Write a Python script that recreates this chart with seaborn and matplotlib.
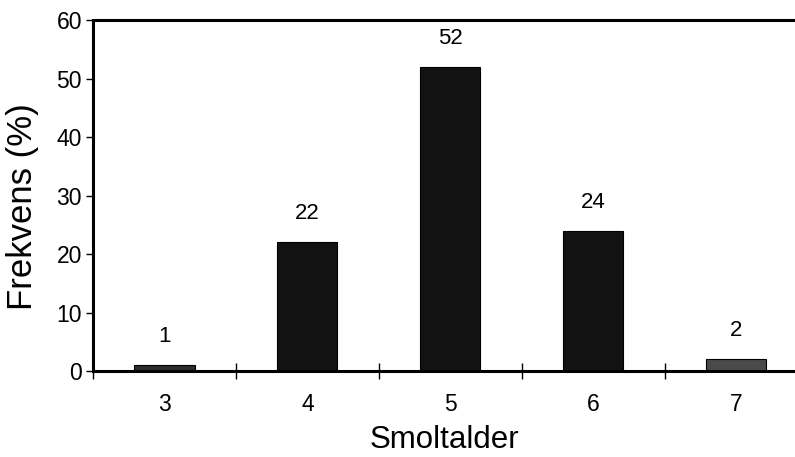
import matplotlib
matplotlib.use("Agg")
import matplotlib.pyplot as plt
import seaborn as sns
import pandas as pd
import numpy as np

# Smolt age distribution
smolt_age = ["3", "4", "5", "6", "7"]
frequency = [1, 22, 52, 24, 2]
bar_colors = ["#2e2e2e", "#121212", "#121212", "#121212", "#4a4a4a"]
y_ticks = [0, 10, 20, 30, 40, 50, 60]

sns.set_theme(style="white")
plt.rcParams["font.family"] = ["Liberation Sans", "DejaVu Sans"]

df = pd.DataFrame({"Smoltalder": smolt_age, "Frekvens": frequency})

fig = plt.figure(figsize=(7.95, 4.57), dpi=100)
ax = fig.add_axes([0.117, 0.188, 0.883, 0.768])

sns.barplot(data=df, x="Smoltalder", y="Frekvens", hue="Smoltalder",
            palette=bar_colors, width=0.42, legend=False, ax=ax,
            saturation=1, edgecolor="#000000", linewidth=0.8)

for i, v in enumerate(frequency):
    ax.annotate(str(v), xy=(i, v), xytext=(0, 13), textcoords="offset points",
                ha="center", va="bottom", fontsize=16, color="#000000")

ax.set_ylim(0, 60)
ax.set_xlim(-0.5, 4.41)
ax.set_yticks(y_ticks)
ax.set_yticklabels([str(t) for t in y_ticks], fontsize=16.5)
ax.set_xticks(range(len(smolt_age)))
ax.set_xticklabels(smolt_age, fontsize=16.5)
ax.set_xticks(np.arange(-0.5, 4.5, 1.0), minor=True)

ax.tick_params(axis="x", which="major", length=0, pad=16, colors="#000000")
ax.tick_params(axis="x", which="minor", direction="inout", length=11,
               width=1, color="#000000", bottom=True)
ax.tick_params(axis="y", which="major", direction="out", length=5, width=1,
               color="#000000", left=True, pad=3, colors="#000000")

ax.set_xlabel("Smoltalder", fontsize=22.5, color="#000000")
ax.xaxis.set_label_coords(0.5, -0.219)
ax.xaxis.label.set_va("baseline")

ax.set_ylabel("Frekvens (%)", fontsize=25, color="#000000")
ax.yaxis.set_label_coords(-0.1004, 0.47)
ax.yaxis.label.set_ha("center")
ax.yaxis.label.set_va("center")

for side in ["left", "bottom", "top"]:
    ax.spines[side].set_visible(True)
    ax.spines[side].set_color("#000000")
    ax.spines[side].set_linewidth(2.2)
ax.spines["right"].set_visible(False)
ax.grid(False)

fig.savefig("out.png", dpi=100)
